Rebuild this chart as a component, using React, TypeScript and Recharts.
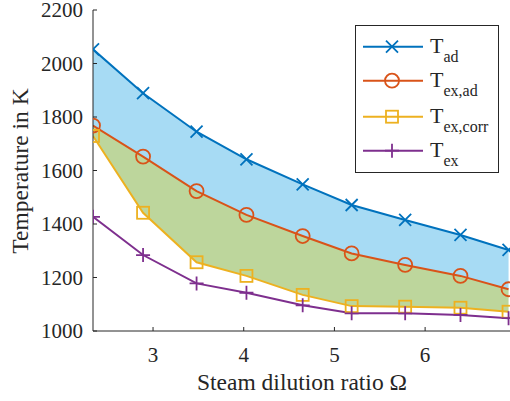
import React from 'react';
import { ComposedChart, Line, Area, XAxis, YAxis } from 'recharts';

const omega = [2.338, 2.89, 3.48, 4.03, 4.65, 5.19, 5.78, 6.39, 6.92];
const tAd = [2053, 1889, 1745, 1642, 1548, 1471, 1415, 1359, 1303];
const tExAd = [1768, 1652, 1523, 1434, 1355, 1290, 1247, 1206, 1156];
const tExCorr = [1729, 1442, 1257, 1206, 1135, 1093, 1091, 1087, 1072];
const tEx = [1427, 1284, 1178, 1143, 1096, 1066, 1066, 1060, 1048];

const xTicks = [3, 4, 5, 6];
const yTicks = [1000, 1200, 1400, 1600, 1800, 2000, 2200];
const seriesNames = ['ad', 'ex,ad', 'ex,corr', 'ex'];

const C_BLUE = '#0072BD';
const C_ORANGE = '#D95319';
const C_YELLOW = '#EDB120';
const C_PURPLE = '#7E2F8E';
const FILL_BLUE = '#a7dbf4';
const FILL_GREEN = '#bdd69c';
const AXIS = '#262626';
const FONT = '"Liberation Serif", "Times New Roman", serif';

const data = omega.map((x, i) => ({
  x,
  tAd: tAd[i],
  tExAd: tExAd[i],
  tExCorr: tExCorr[i],
  tEx: tEx[i],
}));

type MP = { cx?: number; cy?: number; color: string };

const XMark = ({ cx = 0, cy = 0, color }: MP) => (
  <path d={`M${cx - 6},${cy - 6}L${cx + 6},${cy + 6}M${cx - 6},${cy + 6}L${cx + 6},${cy - 6}`} stroke={color} strokeWidth={1.8} fill="none" />
);
const OMark = ({ cx = 0, cy = 0, color }: MP) => (
  <circle cx={cx} cy={cy} r={7} stroke={color} strokeWidth={1.8} fill="none" />
);
const SMark = ({ cx = 0, cy = 0, color }: MP) => (
  <rect x={cx - 6} y={cy - 6} width={12} height={12} stroke={color} strokeWidth={1.8} fill="none" />
);
const PMark = ({ cx = 0, cy = 0, color }: MP) => (
  <path d={`M${cx - 7},${cy}L${cx + 7},${cy}M${cx},${cy - 7}L${cx},${cy + 7}`} stroke={color} strokeWidth={1.8} fill="none" />
);

const markers = [XMark, OMark, SMark, PMark];
const colors = [C_BLUE, C_ORANGE, C_YELLOW, C_PURPLE];

const BottomTick = (p: any) => (
  <g>
    <line x1={p.x} y1={p.y} x2={p.x} y2={p.y - 4} stroke={AXIS} strokeWidth={1} />
    <text x={p.x} y={p.y + 31} textAnchor="middle" fontFamily={FONT} fontSize={21} fill={AXIS}>
      {p.payload.value}
    </text>
  </g>
);
const LeftTick = (p: any) => (
  <g>
    <line x1={p.x} y1={p.y} x2={p.x + 4} y2={p.y} stroke={AXIS} strokeWidth={1} />
    <text x={p.x - 10} y={p.y + 7} textAnchor="end" fontFamily={FONT} fontSize={21} fill={AXIS}>
      {p.payload.value}
    </text>
  </g>
);
const TopTick = (p: any) => (
  <line x1={p.x} y1={p.y} x2={p.x} y2={p.y + 4} stroke={AXIS} strokeWidth={1} />
);
const RightTick = (p: any) => (
  <line x1={p.x} y1={p.y} x2={p.x - 4} y2={p.y} stroke={AXIS} strokeWidth={1} />
);

const makeDot = (idx: number) => (props: any) => {
  const M = markers[idx];
  return <M key={`m${idx}-${props.index}`} cx={props.cx} cy={props.cy} color={colors[idx]} />;
};

export default function App() {
  const keys = ['tAd', 'tExAd', 'tExCorr', 'tEx'];
  const legendY = [46.7, 80.7, 116.7, 150.7];
  return (
    <div style={{ position: 'absolute', left: 0, top: 0, width: 510, height: 401, overflow: 'hidden', background: '#fff' }}>
      <ComposedChart width={515} height={401} data={data} margin={{ top: 10, right: 4, bottom: 0, left: 0 }}>
        <XAxis
          xAxisId="b"
          dataKey="x"
          type="number"
          domain={[2.338, 6.947]}
          allowDataOverflow
          ticks={xTicks}
          orientation="bottom"
          height={70}
          tickSize={0}
          tickMargin={0}
          tickLine={false}
          tick={BottomTick}
          axisLine={{ stroke: AXIS, strokeWidth: 1 }}
        />
        <XAxis
          xAxisId="t"
          dataKey="x"
          type="number"
          domain={[2.338, 6.947]}
          allowDataOverflow
          ticks={xTicks}
          orientation="top"
          height={0}
          tickSize={0}
          tickMargin={0}
          tickLine={false}
          tick={TopTick}
          axisLine={{ stroke: AXIS, strokeWidth: 1 }}
        />
        <YAxis
          yAxisId="l"
          type="number"
          domain={[1000, 2200]}
          allowDataOverflow
          ticks={yTicks}
          orientation="left"
          width={93}
          tickSize={0}
          tickMargin={0}
          tickLine={false}
          tick={LeftTick}
          axisLine={{ stroke: AXIS, strokeWidth: 1 }}
        />
        <YAxis
          yAxisId="r"
          type="number"
          domain={[1000, 2200]}
          allowDataOverflow
          ticks={yTicks}
          orientation="right"
          width={0}
          tickSize={0}
          tickMargin={0}
          tickLine={false}
          tick={RightTick}
          axisLine={{ stroke: AXIS, strokeWidth: 1 }}
        />
        <Area
          xAxisId="b"
          yAxisId="l"
          type="linear"
          dataKey={(d: any) => [d.tExAd, d.tAd]}
          stroke="none"
          fill={FILL_BLUE}
          fillOpacity={1}
          isAnimationActive={false}
          activeDot={false}
        />
        <Area
          xAxisId="b"
          yAxisId="l"
          type="linear"
          dataKey={(d: any) => [d.tExCorr, d.tExAd]}
          stroke="none"
          fill={FILL_GREEN}
          fillOpacity={1}
          isAnimationActive={false}
          activeDot={false}
        />
        {keys.map((k, i) => (
          <Line
            key={k}
            xAxisId="b"
            yAxisId="l"
            type="linear"
            dataKey={k}
            stroke={colors[i]}
            strokeWidth={2}
            dot={makeDot(i)}
            activeDot={false}
            isAnimationActive={false}
          />
        ))}
      </ComposedChart>
      <svg width={510} height={401} style={{ position: 'absolute', left: 0, top: 0, pointerEvents: 'none' }}>
        <text x={302} y={390} textAnchor="middle" fontFamily={FONT} fontSize={23.5} fill={AXIS}>
          Steam dilution ratio Ω
        </text>
        <text
          x={0}
          y={0}
          transform="translate(28,171) rotate(-90)"
          textAnchor="middle"
          fontFamily={FONT}
          fontSize={23.5}
          fill={AXIS}
        >
          Temperature in K
        </text>
        <rect x={355.5} y={25.5} width={143} height={147} fill="#fff" stroke={AXIS} strokeWidth={1} />
        {seriesNames.map((n, i) => {
          const M = markers[i];
          const y = legendY[i];
          return (
            <g key={n}>
              <line x1={363} y1={y} x2={423} y2={y} stroke={colors[i]} strokeWidth={2} />
              <M cx={392} cy={y} color={colors[i]} />
              <text x={430} y={y + 6} fontFamily={FONT} fontSize={22} fill={AXIS}>
                T
                <tspan dy={9} fontSize={16}>{n}</tspan>
              </text>
            </g>
          );
        })}
      </svg>
    </div>
  );
}
